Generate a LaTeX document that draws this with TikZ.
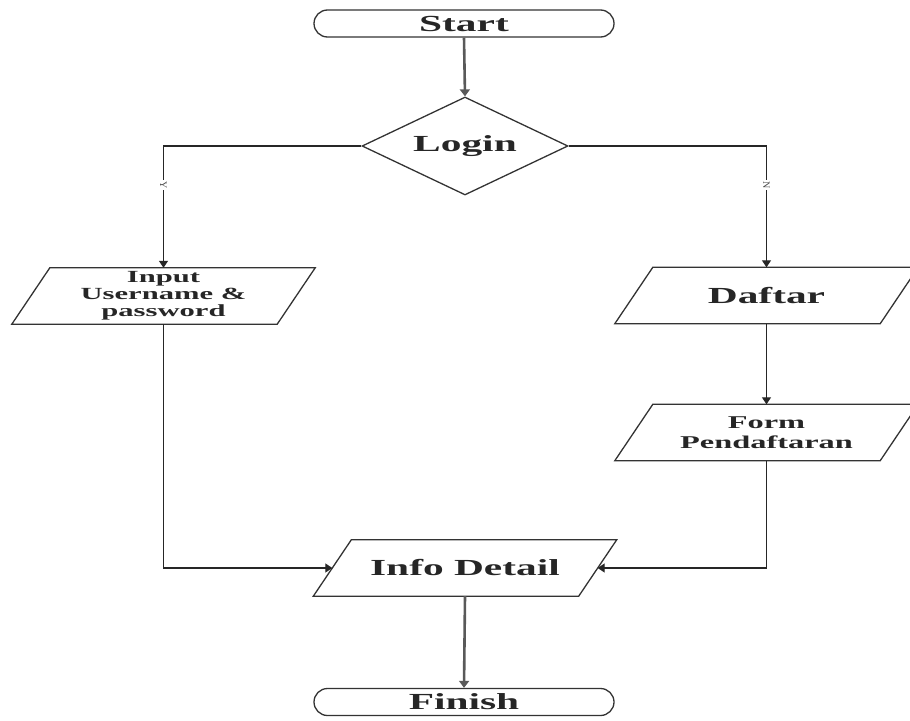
\documentclass[tikz,border=0pt]{standalone}
\usepackage{fontspec}
\setmainfont{Liberation Serif}
\newfontfamily\widefont[FakeStretch=1.8]{Liberation Serif}
\usetikzlibrary{shapes.geometric,arrows.meta}
\begin{document}
\begin{tikzpicture}[x=1pt,y=-1pt,
  bigtext/.style={font=\widefont\bfseries\fontsize{23}{24}\selectfont, text=black!85},
  smalltext/.style={font=\widefont\bfseries\fontsize{17}{17}\selectfont, text=black!85, align=center},
  terminal/.style={draw=black!80, line width=1.3pt, rounded corners=13.5pt, minimum width=300pt, minimum height=27pt, inner sep=0pt, bigtext},
  decision/.style={draw=black!80, line width=1.3pt, diamond, aspect=2.1, minimum width=206pt, minimum height=98pt, inner sep=0pt, bigtext},
  iobox/.style={minimum width=265pt, minimum height=56pt, inner sep=0pt},
  arr/.style={draw=black!85, line width=1.3pt, -{Triangle[length=7pt,width=9pt]}},
  thickarr/.style={draw=black!65, line width=2.6pt, -{Triangle[length=7pt,width=10pt]}},
  yn/.style={font=\fontsize{10}{10}\selectfont, fill=white, inner sep=1.5pt, rotate=-90, text=black!70}
]
\useasboundingbox (0,0) rectangle (910,720);
\newcommand{\paragram}[1]{%
  \draw[draw=black!80, line width=1.3pt] ([xshift=19pt]#1.north west) -- ([xshift=19pt]#1.north east)
    -- ([xshift=-19pt]#1.south east) -- ([xshift=-19pt]#1.south west) -- cycle;}

\node[terminal] (start) at (464,23.5) {Start};
\node[decision] (login) at (465,146) {Login};
\node[iobox, smalltext] (input) at (163.5,296) {Input\\Username \&\\password};
\node[iobox, bigtext] (daftar) at (766.5,295.5) {Daftar};
\node[iobox, smalltext, font=\widefont\bfseries\fontsize{18}{20}\selectfont] (form) at (766.5,432.5) {Form\\Pendaftaran};
\node[iobox, bigtext] (info) at (465,568) {Info Detail};
\node[terminal] (finish) at (464,702) {Finish};

\paragram{input}
\paragram{daftar}
\paragram{form}
\paragram{info}

\draw[thickarr] (start.south) -- (login.north);
\draw[arr] (login.west) -| node[yn, pos=0.66] (ylab) {Y} (input.north);
\draw[arr] (login.east) -| node[yn, pos=0.66] (nlab) {N} (daftar.north);
\draw[arr] (daftar.south) -- (form.north);
\draw[arr] (input.south) |- (info.west);
\draw[arr] (form.south) |- (info.east);
\draw[thickarr] (info.south) -- (finish.north);
\end{tikzpicture}
\end{document}
